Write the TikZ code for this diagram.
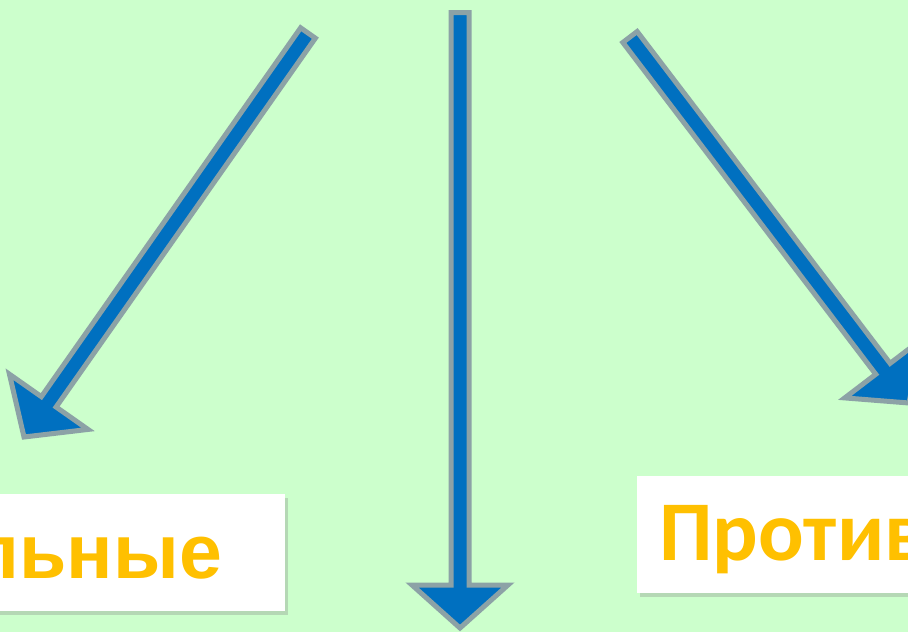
\documentclass[tikz,border=0pt]{standalone}
\usepackage{fontspec}
\usepackage{tikz}
\usetikzlibrary{calc,shadows}
\newfontfamily\leftfont{Liberation Sans}
\newfontfamily\rightfont{Carlito}
\definecolor{bggreen}{RGB}{204,255,204}
\definecolor{arrowblue}{RGB}{0,112,192}
\definecolor{arrowrim}{RGB}{140,162,166}
\definecolor{wordgold}{RGB}{255,192,0}

\begin{document}
\begin{tikzpicture}[line join=miter, x=1pt, y=-1pt,
    card/.style={fill=white, inner sep=0pt,
        drop shadow={shadow xshift=3pt, shadow yshift=-4pt, opacity=0.3}},
    word/.style={inner sep=0pt, text=wordgold},
    blockarrow/.style={draw=arrowrim, fill=arrowblue, line width=5pt}]
                \fill[bggreen] (0,0) rectangle (908,632);
                \clip (0,0) rectangle (908,632);
                \coordinate (lt) at (308,33);
                \coordinate (lh) at (24,437);
                \coordinate (mt) at (460,12.5);
                \coordinate (mh) at (460,628);
                \coordinate (rt) at (630,37);
                \coordinate (rh) at (909,403);
                \foreach \t/\h in {lt/lh, mt/mh, rt/rh} {
                    \coordinate (hb) at ($(\h)!43pt!(\t)$);
                    \draw[blockarrow] ($(\t)!9pt!90:(\h)$) -- ($(hb)!9pt!-90:(\t)$)
                        -- ($(hb)!48pt!-90:(\t)$) -- (\h) -- ($(hb)!48pt!90:(\t)$)
                        -- ($(hb)!9pt!90:(\t)$) -- ($(\t)!9pt!-90:(\h)$) -- cycle;
                }
                \node[card, minimum width=385pt, minimum height=117pt] (leftcard) at (92.5,552.5) {};
                \node[word, anchor=base east, font=\fontsize{77}{80}\selectfont\bfseries]
                    (leftword) at ([xshift=-63pt, yshift=33pt]leftcard.south east) {\leftfont льные};
                \node[card, minimum width=363pt, minimum height=117pt] (rightcard) at (818.5,534.5) {};
                \node[word, anchor=base west, font=\fontsize{85}{88}\selectfont\bfseries]
                    (rightword) at ([xshift=22pt, yshift=33pt]rightcard.south west) {\rightfont Против};
            \end{tikzpicture}
\end{document}
